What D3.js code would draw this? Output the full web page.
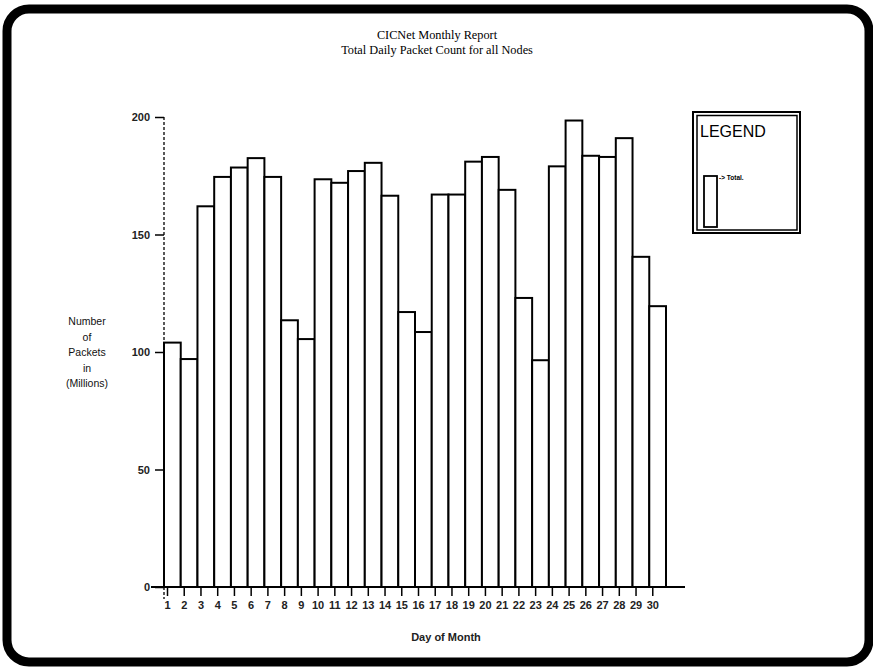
<!DOCTYPE html>
<html><head><meta charset="utf-8">
<script src="https://cdn.jsdelivr.net/npm/d3@7"></script>
<style>body{margin:0;background:#fff}svg{display:block}</style>
</head><body>
<script>
const days = d3.range(1, 31).map(String);
const packets = [104, 97, 162, 174.5, 178.5, 182.5, 174.5, 113.5, 105.5, 173.5,
                 172, 177, 180.5, 166.5, 117, 108.5, 167, 167, 181, 183,
                 169, 123, 96.5, 179, 198.5, 183.5, 183, 191, 140.5, 119.5];
const yTicks = [0, 50, 100, 150, 200];
const titleLines = ["CICNet Monthly Report", "Total Daily Packet Count for all Nodes"];
const yLabelLines = ["Number", "of", "Packets", "in", "(Millions)"];
const xLabel = "Day of Month";
const legendTitle = "LEGEND";
const legendItem = "-> Total.";

const W = 873, H = 670;
const svg = d3.select("body").append("svg").attr("width", W).attr("height", H);

// frame
svg.append("rect").attr("x", 7).attr("y", 9).attr("width", 862).attr("height", 653)
  .attr("rx", 22).attr("fill", "none").attr("stroke", "#000").attr("stroke-width", 9);

const x = d3.scaleBand().domain(days).range([164, 666]).paddingInner(0).paddingOuter(0);
const y = d3.scaleLinear().domain([0, 200]).range([587, 117]);

// title
svg.selectAll("text.title").data(titleLines).join("text")
  .attr("x", 437).attr("y", (d, i) => 39 + i * 15)
  .attr("text-anchor", "middle").attr("font-family", "Liberation Serif, serif")
  .attr("font-size", 12.3).text(d => d);

// bars
svg.selectAll("rect.bar").data(packets).join("rect")
  .attr("x", (d, i) => x(days[i])).attr("y", d => y(d))
  .attr("width", x.bandwidth()).attr("height", d => y(0) - y(d))
  .attr("fill", "#fff").attr("stroke", "#000").attr("stroke-width", 2);

// y axis (dotted line)
svg.append("line").attr("x1", 164).attr("x2", 164).attr("y1", y(200)).attr("y2", 599)
  .attr("stroke", "#000").attr("stroke-width", 1.3).attr("stroke-dasharray", "3,2");
const yAxis = d3.axisLeft(y).tickValues(yTicks).tickSize(9).tickPadding(5);
const gy = svg.append("g").attr("transform", "translate(164,0)").call(yAxis);
gy.select(".domain").remove();
gy.selectAll(".tick line").attr("stroke-width", 1.5);
gy.selectAll(".tick text").attr("font-family", "Liberation Sans, Arial, sans-serif")
  .attr("font-size", 11).attr("font-weight", "bold").attr("fill", "#222");

// x axis
svg.append("line").attr("x1", 151).attr("x2", 685).attr("y1", y(0)).attr("y2", y(0))
  .attr("stroke", "#000").attr("stroke-width", 2);
const xTick = d3.scalePoint().domain(days).range([x(days[0]) + 3, x(days[29]) + 3]);
const xAxis = d3.axisBottom(xTick).tickSize(9).tickPadding(5);
const gx = svg.append("g").attr("transform", `translate(0,${y(0)})`).call(xAxis);
gx.select(".domain").remove();
gx.selectAll(".tick line").attr("stroke-width", 1.5);
gx.selectAll(".tick text").attr("font-family", "Liberation Sans, Arial, sans-serif")
  .attr("font-size", 11).attr("font-weight", "bold").attr("fill", "#222");

// axis titles
svg.selectAll("text.ylab").data(yLabelLines).join("text")
  .attr("x", 87).attr("y", (d, i) => 325 + i * 15.5)
  .attr("text-anchor", "middle").attr("font-family", "Liberation Sans, Arial, sans-serif")
  .attr("font-size", 10.5).attr("fill", "#111").text(d => d);
svg.append("text").attr("x", 446).attr("y", 641).attr("text-anchor", "middle")
  .attr("font-family", "Liberation Sans, Arial, sans-serif").attr("font-size", 11)
  .attr("font-weight", "bold").attr("fill", "#222").text(xLabel);

// legend
const lg = svg.append("g");
lg.append("rect").attr("x", 693).attr("y", 112).attr("width", 107).attr("height", 121)
  .attr("fill", "none").attr("stroke", "#000").attr("stroke-width", 2);
lg.append("rect").attr("x", 697).attr("y", 115.5).attr("width", 100).attr("height", 114.5)
  .attr("fill", "none").attr("stroke", "#000").attr("stroke-width", 1.5);
lg.append("text").attr("x", 700).attr("y", 137).attr("font-family", "Liberation Sans, Arial, sans-serif")
  .attr("font-size", 16).text(legendTitle);
lg.append("rect").attr("x", 704).attr("y", 176).attr("width", 13).attr("height", 51)
  .attr("fill", "#fff").attr("stroke", "#000").attr("stroke-width", 1.8);
lg.append("text").attr("x", 719).attr("y", 180).attr("font-family", "Liberation Sans, Arial, sans-serif")
  .attr("font-size", 6.5).attr("font-weight", "bold").text(legendItem);
</script>
</body></html>
